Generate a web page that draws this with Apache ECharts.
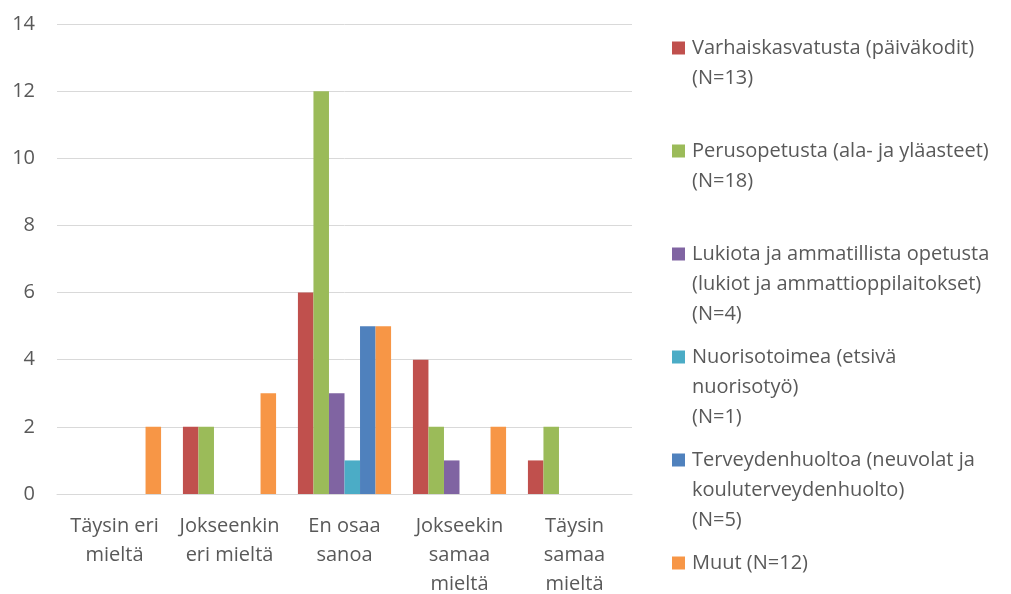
<!DOCTYPE html>
<html>
<head>
<meta charset="utf-8">
<script src="https://cdn.jsdelivr.net/npm/echarts@6/dist/echarts.min.js"></script>
<style>
  html, body { margin: 0; padding: 0; background: #fff; }
  #chart { width: 1011px; height: 594px; }
</style>
</head>
<body>
<div id="chart"></div>
<script>
// categories (answer options) and tick labels
const categories = ['Täysin eri\nmieltä', 'Jokseenkin\neri mieltä', 'En osaa\nsanoa', 'Jokseekin\nsamaa\nmieltä', 'Täysin\nsamaa\nmieltä'];
const yTicks = [0, 2, 4, 6, 8, 10, 12, 14];

// series names (legend lines) and values
const seriesNames = [
    ['Varhaiskasvatusta (päiväkodit)', '(N=13)'],
    ['Perusopetusta (ala- ja yläasteet)', '(N=18)'],
    ['Lukiota ja ammatillista opetusta', '(lukiot ja ammattioppilaitokset)', '(N=4)'],
    ['Nuorisotoimea (etsivä', 'nuorisotyö)', '(N=1)'],
    ['Terveydenhuoltoa (neuvolat ja', 'kouluterveydenhuolto)', '(N=5)'],
    ['Muut (N=12)']
];
const varhaiskasvatus = [0, 2, 6, 4, 1];
const perusopetus = [0, 2, 12, 2, 2];
const lukio = [0, 0, 3, 1, 0];
const nuorisotoimi = [0, 0, 1, 0, 0];
const terveydenhuolto = [0, 0, 5, 0, 0];
const muut = [2, 3, 5, 2, 0];

const values = [varhaiskasvatus, perusopetus, lukio, nuorisotoimi, terveydenhuolto, muut];
const colors = ['#C0504D', '#9BBB59', '#8064A2', '#4BACC6', '#4F81BD', '#F79646'];

const textColor = '#595959';
const fontFamily = '"Open Sans", Lato, sans-serif';

// legend text: pad every entry to 5 lines so that the marker sits on the first line
const legendLabel = function (lines) {
    const padded = ['', ''].concat(lines);
    while (padded.length < 5) padded.push('');
    return padded.join('\n');
};

const chart = echarts.init(document.getElementById('chart'));

const series = values.map(function (data, i) {
    return {
        name: seriesNames[i].join(' '),
        type: 'bar',
        data: data,
        barGap: '0%',
        barCategoryGap: '19%',
        itemStyle: { color: colors[i] }
    };
});

const labelMap = {};
seriesNames.forEach(function (lines) {
    labelMap[lines.join(' ')] = legendLabel(lines);
});

chart.setOption({
    animation: false,
    textStyle: { fontFamily: fontFamily },
    grid: { left: 57, right: 379, top: 24, bottom: 100, outerBoundsMode: 'none', containLabel: false },
    legend: {
        orient: 'vertical',
        left: 672,
        top: -27,
        height: 900,
        padding: 0,
        itemWidth: 13,
        itemHeight: 13,
        itemGap: -47,
        icon: 'rect',
        selectedMode: false,
        formatter: function (name) { return labelMap[name]; },
        textStyle: {
            color: textColor,
            fontSize: 20,
            lineHeight: 30,
            fontFamily: fontFamily,
            padding: [0, 0, 0, 2]
        }
    },
    xAxis: {
        type: 'category',
        data: categories,
        axisTick: { show: false },
        axisLine: { lineStyle: { color: '#D9D9D9', width: 1 } },
        axisLabel: {
            color: textColor,
            fontSize: 20,
            lineHeight: 29,
            margin: 18,
            interval: 0,
            fontFamily: fontFamily
        }
    },
    yAxis: {
        type: 'value',
        min: yTicks[0],
        max: yTicks[yTicks.length - 1],
        interval: yTicks[1] - yTicks[0],
        axisLine: { show: false },
        axisTick: { show: false },
        splitLine: { lineStyle: { color: '#D9D9D9', width: 1 } },
        axisLabel: {
            color: textColor,
            fontSize: 20,
            margin: 22,
            fontFamily: fontFamily
        }
    },
    series: series
});
</script>
</body>
</html>
